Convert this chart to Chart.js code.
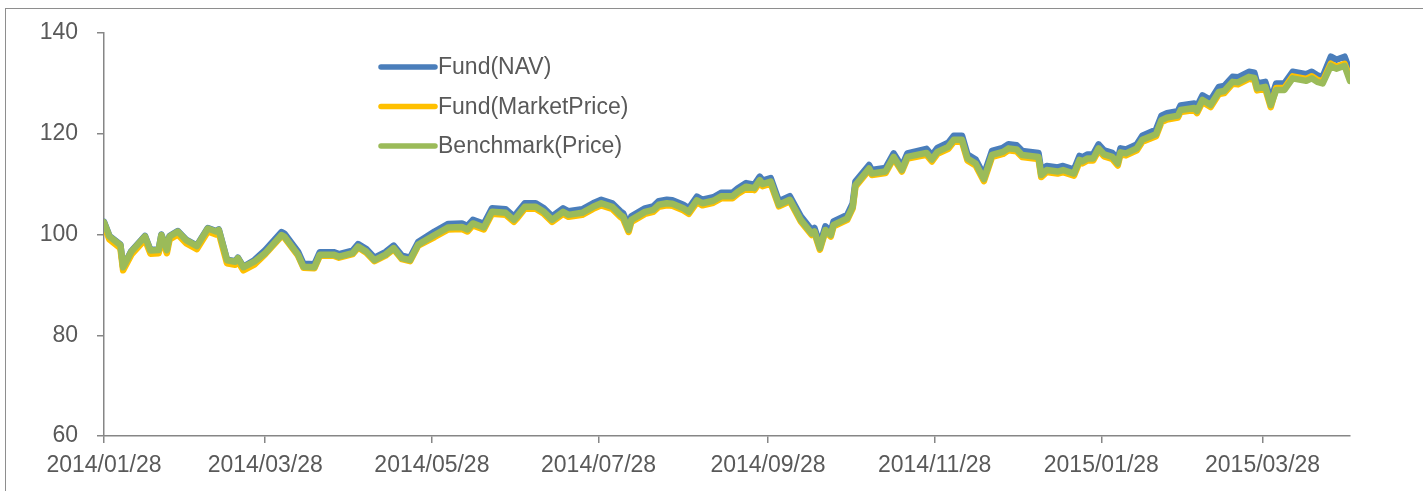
<!DOCTYPE html>
<html>
<head>
<meta charset="utf-8">
<title>Fund vs Benchmark</title>
<script src="https://cdn.jsdelivr.net/npm/chart.js@4.4.1/dist/chart.umd.min.js"></script>
<style>
  html, body { margin: 0; padding: 0; background: #fff; overflow: hidden; }
  #frame { position: absolute; left: 5px; top: 8px; width: 1440px; height: 500px; border: 1px solid #8e8e8e; }
  #wrap { position: absolute; left: 0; top: 0; width: 1423px; height: 491px; }
</style>
</head>
<body>
<div id="frame"></div>
<div id="wrap"><canvas id="perfChart" width="1423" height="491"></canvas></div>
<script>
const dates = [
  '2014/01/28','2014/01/30','2014/02/03','2014/02/04','2014/02/07','2014/02/12','2014/02/14','2014/02/17','2014/02/18','2014/02/20',
  '2014/02/21','2014/02/24','2014/02/27','2014/03/03','2014/03/07','2014/03/10','2014/03/11','2014/03/14','2014/03/17','2014/03/18',
  '2014/03/20','2014/03/24','2014/03/28','2014/04/03','2014/04/04','2014/04/09','2014/04/11','2014/04/15','2014/04/17','2014/04/22',
  '2014/04/24','2014/04/29','2014/05/01','2014/05/04','2014/05/07','2014/05/11','2014/05/14','2014/05/17','2014/05/20','2014/05/23',
  '2014/05/29','2014/06/03','2014/06/08','2014/06/10','2014/06/12','2014/06/16','2014/06/19','2014/06/24','2014/06/27','2014/06/28',
  '2014/07/01','2014/07/05','2014/07/08','2014/07/11','2014/07/15','2014/07/17','2014/07/22','2014/07/26','2014/07/29','2014/08/02',
  '2014/08/05','2014/08/06','2014/08/08','2014/08/09','2014/08/14','2014/08/17','2014/08/19','2014/08/22','2014/08/24','2014/08/28',
  '2014/08/30','2014/09/02','2014/09/04','2014/09/08','2014/09/11','2014/09/15','2014/09/17','2014/09/20','2014/09/23','2014/09/25',
  '2014/09/26','2014/09/29','2014/10/02','2014/10/06','2014/10/10','2014/10/14','2014/10/15','2014/10/17','2014/10/19','2014/10/21',
  '2014/10/22','2014/10/27','2014/10/29','2014/10/30','2014/11/04','2014/11/05','2014/11/10','2014/11/13','2014/11/16','2014/11/18',
  '2014/11/25','2014/11/27','2014/11/29','2014/12/03','2014/12/05','2014/12/08','2014/12/10','2014/12/13','2014/12/16','2014/12/19',
  '2014/12/23','2014/12/25','2014/12/28','2014/12/30','2015/01/05','2015/01/06','2015/01/08','2015/01/12','2015/01/14','2015/01/18',
  '2015/01/20','2015/01/21','2015/01/23','2015/01/25','2015/01/27','2015/01/29','2015/02/01','2015/02/03','2015/02/04','2015/02/06',
  '2015/02/10','2015/02/12','2015/02/17','2015/02/19','2015/02/21','2015/02/25','2015/02/26','2015/03/03','2015/03/04','2015/03/06',
  '2015/03/09','2015/03/12','2015/03/14','2015/03/17','2015/03/19','2015/03/23','2015/03/25','2015/03/26','2015/03/29','2015/03/31',
  '2015/04/02','2015/04/05','2015/04/08','2015/04/13','2015/04/15','2015/04/17','2015/04/19','2015/04/22','2015/04/24','2015/04/27',
  '2015/04/29'
];

const navValues = [
  102.5, 99.7, 98.0, 93.6, 96.7, 99.7, 96.9, 97.0, 100.0, 97.0,
  99.7, 100.7, 99.0, 97.8, 101.3, 100.7, 101.0, 95.0, 94.7, 95.4,
  93.6, 94.9, 96.9, 100.5, 100.2, 96.6, 94.2, 94.1, 96.5, 96.5,
  96.1, 96.8, 98.1, 97.1, 95.4, 96.5, 97.8, 95.8, 95.4, 98.5,
  100.6, 102.1, 102.2, 101.7, 102.9, 102.1, 105.2, 105.0, 103.6, 104.2,
  106.2, 106.2, 105.2, 103.6, 105.2, 104.6, 105.0, 106.2, 106.9, 106.2,
  104.6, 104.2, 101.6, 103.6, 105.2, 105.6, 106.6, 106.9, 106.8, 105.9,
  105.2, 107.5, 106.9, 107.4, 108.3, 108.3, 109.2, 110.2, 109.9, 111.5,
  110.7, 111.2, 106.6, 107.6, 103.6, 100.9, 101.3, 98.0, 101.6, 100.6,
  102.6, 103.9, 106.2, 110.5, 113.8, 112.8, 113.2, 116.1, 113.5, 116.1,
  117.0, 115.7, 117.2, 118.2, 119.6, 119.6, 115.9, 114.9, 111.8, 116.6,
  117.2, 117.9, 117.7, 116.6, 116.2, 112.6, 113.6, 113.3, 113.6, 112.9,
  115.6, 115.3, 115.9, 115.9, 117.9, 116.7, 116.2, 114.9, 117.1, 116.9,
  117.9, 119.6, 120.8, 123.6, 124.1, 124.5, 125.6, 126.0, 125.4, 127.6,
  126.7, 129.3, 129.5, 131.3, 131.2, 132.3, 132.1, 130.0, 130.3, 126.7,
  130.0, 130.0, 132.3, 131.8, 132.3, 131.6, 131.3, 135.3, 134.7, 135.3,
  132.4
];

const marketValues = [
  101.8, 99.0, 97.3, 92.9, 96.0, 99.0, 96.2, 96.3, 99.3, 96.3,
  99.0, 100.0, 98.3, 97.1, 100.6, 100.0, 100.3, 94.3, 94.0, 94.7,
  92.9, 94.0, 96.1, 99.7, 99.4, 95.8, 93.4, 93.3, 95.8, 95.8,
  95.4, 96.1, 97.4, 96.4, 94.7, 95.8, 97.1, 95.1, 94.7, 97.8,
  99.5, 101.0, 101.1, 100.6, 101.8, 101.0, 104.1, 103.9, 102.5, 103.1,
  105.1, 105.1, 104.1, 102.5, 104.1, 103.5, 103.9, 105.1, 105.8, 105.1,
  103.5, 103.1, 100.5, 102.5, 104.1, 104.5, 105.5, 105.8, 105.7, 104.8,
  104.1, 106.4, 105.8, 106.3, 107.2, 107.2, 108.1, 109.1, 108.8, 110.4,
  109.6, 110.1, 105.6, 106.6, 102.6, 99.9, 100.3, 97.0, 100.6, 99.6,
  101.6, 102.9, 105.2, 109.5, 112.8, 111.8, 112.2, 115.1, 112.5, 115.1,
  115.8, 114.5, 116.0, 117.0, 118.4, 118.4, 114.7, 113.7, 110.6, 115.4,
  116.0, 116.7, 116.5, 115.4, 115.0, 111.4, 112.4, 112.1, 112.4, 111.7,
  114.4, 114.1, 114.7, 114.7, 116.7, 115.5, 115.0, 113.7, 115.9, 115.7,
  116.7, 118.4, 119.5, 122.3, 122.8, 123.2, 124.3, 124.7, 124.1, 126.3,
  125.3, 127.9, 128.1, 129.9, 129.8, 130.9, 130.7, 128.6, 128.9, 125.3,
  129.1, 129.1, 131.4, 130.9, 131.4, 130.7, 130.4, 133.9, 133.3, 133.9,
  131.1
];

const benchmarkValues = [
  102.4, 99.6, 97.9, 93.5, 96.6, 99.6, 96.8, 96.9, 99.9, 96.9,
  99.6, 100.6, 98.9, 97.7, 101.2, 100.6, 100.9, 94.9, 94.6, 95.3,
  93.5, 94.6, 96.3, 99.9, 99.6, 96.0, 93.6, 93.5, 96.0, 96.0,
  95.6, 96.3, 97.6, 96.6, 94.9, 96.0, 97.3, 95.3, 94.9, 98.0,
  99.9, 101.4, 101.5, 101.0, 102.2, 101.4, 104.5, 104.3, 102.9, 103.5,
  105.5, 105.5, 104.5, 102.9, 104.5, 103.9, 104.3, 105.5, 106.2, 105.5,
  103.9, 103.5, 100.9, 102.9, 104.5, 104.9, 105.9, 106.2, 106.1, 105.2,
  104.5, 106.8, 106.2, 106.7, 107.6, 107.6, 108.5, 109.5, 109.2, 110.8,
  110.0, 110.5, 105.9, 106.9, 102.9, 100.2, 100.6, 97.3, 100.9, 99.9,
  101.9, 103.2, 105.5, 109.8, 113.1, 112.1, 112.5, 115.4, 112.8, 115.4,
  116.2, 114.9, 116.4, 117.4, 118.8, 118.8, 115.1, 114.1, 111.0, 115.8,
  116.4, 117.1, 116.9, 115.8, 115.4, 111.8, 112.8, 112.5, 112.8, 112.1,
  114.8, 114.5, 115.1, 115.1, 117.1, 115.9, 115.4, 114.1, 116.3, 116.1,
  117.1, 118.8, 119.9, 122.7, 123.2, 123.6, 124.7, 125.1, 124.5, 126.7,
  125.7, 128.3, 128.5, 130.3, 130.2, 131.3, 131.1, 129.0, 129.3, 125.7,
  128.7, 128.7, 131.0, 130.5, 131.0, 130.3, 130.0, 133.5, 132.9, 133.5,
  130.5
];

const seriesNames = ['Fund(NAV)', 'Fund(MarketPrice)', 'Benchmark(Price)'];
const seriesColors = ['#4a7ebb', '#ffc000', '#9bbb59'];
const tickLabels = ['2014/01/28', '2014/03/28', '2014/05/28', '2014/07/28', '2014/09/28', '2014/11/28', '2015/01/28', '2015/03/28'];
const yTicks = [60, 80, 100, 120, 140];

const FONT = '"Liberation Sans", Arial, sans-serif';
const TEXT_COLOR = '#595959';
const AXIS_COLOR = '#868686';

// days since the first date, so the x axis behaves like a date axis
function dayOf(s) {
  const [y, m, d] = s.split('/').map(Number);
  const [y0, m0, d0] = dates[0].split('/').map(Number);
  return Math.round((Date.UTC(y, m - 1, d) - Date.UTC(y0, m0 - 1, d0)) / 86400000);
}

const xDays = dates.map(dayOf);
const tickDays = tickLabels.map(dayOf);

function toPoints(values) {
  return values.map((v, i) => ({ x: xDays[i], y: v }));
}

// legend drawn inside the plot, like the original
const insideLegend = {
  id: 'insideLegend',
  afterDraw(chart) {
    const ctx = chart.ctx;
    const x0 = 381, lineLen = 54, y0 = 67, gap = 39.5;
    ctx.save();
    ctx.font = '23px ' + FONT;
    ctx.textBaseline = 'middle';
    ctx.textAlign = 'left';
    chart.data.datasets.forEach((ds, i) => {
      const y = y0 + i * gap;
      ctx.strokeStyle = ds.borderColor;
      ctx.lineWidth = 5.5;
      ctx.lineCap = 'round';
      ctx.beginPath();
      ctx.moveTo(x0, y);
      ctx.lineTo(x0 + lineLen, y);
      ctx.stroke();
      ctx.fillStyle = TEXT_COLOR;
      ctx.fillText(ds.label, x0 + lineLen + 3, y + 1);
    });
    ctx.restore();
  }
};

const valueSets = [navValues, marketValues, benchmarkValues];

const ctx = document.getElementById('perfChart').getContext('2d');
new Chart(ctx, {
  type: 'line',
  data: {
    datasets: seriesNames.map((name, i) => ({
      label: name,
      data: toPoints(valueSets[i]),
      borderColor: seriesColors[i],
      backgroundColor: seriesColors[i],
      borderWidth: 6.5,
      borderJoinStyle: 'round',
      borderCapStyle: 'round',
      pointRadius: 0,
      tension: 0,
      fill: false,
      // benchmark on top, NAV at the bottom
      order: 2 - i
    }))
  },
  options: {
    responsive: false,
    animation: false,
    layout: { padding: { left: 0, top: 33, right: 73, bottom: 0 } },
    plugins: {
      legend: { display: false },
      tooltip: { enabled: false }
    },
    scales: {
      x: {
        type: 'linear',
        min: 0,
        max: xDays[xDays.length - 1],
        afterBuildTicks: (scale) => { scale.ticks = tickDays.map(v => ({ value: v })); },
        afterFit: (scale) => { scale.height = 55; },
        grid: { display: true, drawOnChartArea: false, drawTicks: true, tickLength: 7, color: AXIS_COLOR, lineWidth: 1.5 },
        border: { display: true, color: AXIS_COLOR, width: 1.5 },
        ticks: {
          autoSkip: false,
          maxRotation: 0,
          padding: 9,
          color: TEXT_COLOR,
          font: { family: FONT, size: 23 },
          callback: (value) => tickLabels[tickDays.indexOf(value)] || ''
        }
      },
      y: {
        min: 60,
        max: 140,
        afterBuildTicks: (scale) => { scale.ticks = yTicks.map(v => ({ value: v })); },
        afterFit: (scale) => { scale.width = 104; },
        grid: { display: true, drawOnChartArea: false, drawTicks: true, tickLength: 7, color: AXIS_COLOR, lineWidth: 1.5 },
        border: { display: true, color: AXIS_COLOR, width: 1.5 },
        ticks: {
          padding: 19,
          color: TEXT_COLOR,
          font: { family: FONT, size: 23 }
        }
      }
    }
  },
  plugins: [insideLegend]
});
</script>
</body>
</html>
